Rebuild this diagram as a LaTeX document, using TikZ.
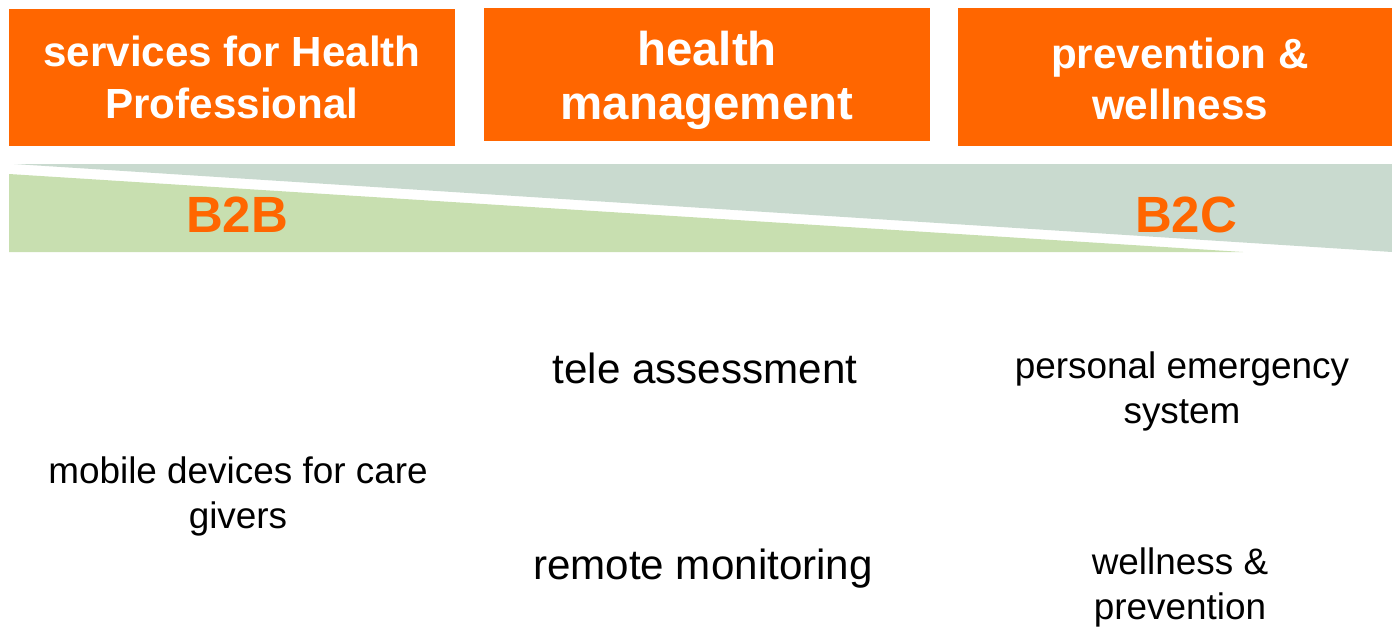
\documentclass[tikz,border=0pt]{standalone}
\usepackage{fontspec}
\setmainfont{Liberation Sans}
\definecolor{hdrorange}{RGB}{255,102,0}
\definecolor{bgreen}{RGB}{200,223,176}
\definecolor{cgrey}{RGB}{201,218,207}

\begin{document}
\begin{tikzpicture}[x=0.02cm, y=-0.02cm,
    topic/.style={fill=hdrorange, text=white, align=center, inner sep=0pt,
        font=\bfseries\fontsize{24}{29.5}\selectfont,
        minimum width=8.92cm, minimum height=2.74cm},
    topictext/.style={text=white, align=center, inner sep=0pt},
    market/.style={text=hdrorange, font=\bfseries\fontsize{29}{34}\selectfont},
    item/.style={align=center, font=\fontsize{21}{25.6}\selectfont}]
    \useasboundingbox (0,0) rectangle (1392,626);

    % Wedges
    \fill[cgrey] (14,164) -- (1392,164) -- (1392,252) -- cycle;
    \fill[bgreen] (9,174) -- (1243,252) -- (9,252) -- cycle;

    % Nodes
    \node (SHP) [topic] at (232,77.5) {services for Health\\Professional};
    \node (HM) [topic, minimum height=2.68cm,
        label={[topictext, yshift=-0.11cm, font=\bfseries\fontsize{27}{30.7}\selectfont]center:health\\management}]
        at (707,74.5) {};
    \node (PW) [topic, minimum width=8.68cm, minimum height=2.76cm,
        label={[topictext, xshift=0.1cm, yshift=-0.04cm, font=\bfseries\fontsize{24}{29.5}\selectfont]center:prevention \&\\wellness}]
        at (1175,77) {};

    \node (B2B) [market] at (237,215) {B2B};
    \node (B2C) [market] at (1186,215) {B2C};

    \node (TA) [item, font=\fontsize{24}{29}\selectfont] at (705,368) {tele assessment};
    \node (RM) [item, font=\fontsize{24}{29}\selectfont] at (703,569) {remote monitoring};
    \node (MD) [item] at (238,496) {mobile devices for care\\givers};
    \node (PE) [item] at (1182,391) {personal emergency\\system};
    \node (WP) [item] at (1180,587) {wellness \&\\prevention};
\end{tikzpicture}
\end{document}
